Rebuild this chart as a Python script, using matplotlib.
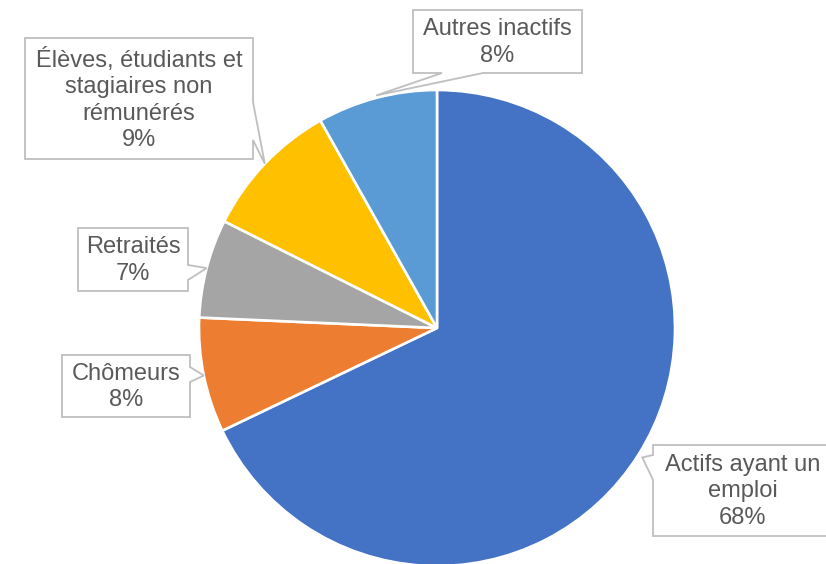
import matplotlib
matplotlib.use("Agg")
import matplotlib.pyplot as plt
from matplotlib.patches import Polygon
import numpy as np

plt.rcParams['font.family'] = ['Liberation Sans', 'DejaVu Sans']

# ---- data ----
categories = ["Actifs ayant un\nemploi", "Chômeurs", "Retraités",
              "Élèves, étudiants et\nstagiaires non\nrémunérés", "Autres inactifs"]
values = [67.9, 7.8, 6.7, 9.45, 8.15]
colors = ["#4472C4", "#ED7D31", "#A5A5A5", "#FFC000", "#5B9BD5"]

# ---- layout (pixels) ----
W, H = 826, 564
CX, CY, R = 437, 328, 238

def to_data(px, py):
    return ((px - CX) / R, (CY - py) / R)

# callout boxes: (x0, y0, x1, y1), side with pointer, pointer base interval
boxes = [
    ((653, 445, 832, 536), "left", (455, 480)),
    ((62, 355, 190, 417), "right", (367, 382)),
    ((78, 228, 188, 291), "right", (265, 280)),
    ((25, 38, 253, 159), "right", (102, 140)),
    ((413, 10, 582, 73), "bottom", (442, 483)),
]
tip_r = [1.02, 1.0, 1.0, 1.0, 1.01]

fig = plt.figure(figsize=(W / 100, H / 100), dpi=100)
ax = fig.add_axes([0, 0, 1, 1])

wedges, _ = ax.pie(values, colors=colors, startangle=90, counterclock=False,
                   radius=1, center=(0, 0),
                   wedgeprops=dict(edgecolor="white", linewidth=1.9))

ax.set_xlim(-CX / R, (W - CX) / R)
ax.set_ylim((CY - H) / R, CY / R)
ax.set_aspect('auto')
ax.axis('off')

total = sum(values)
for w, cat, v, (box, side, (a, b)), tr in zip(wedges, categories, values, boxes, tip_r):
    mid = np.deg2rad((w.theta1 + w.theta2) / 2)
    tip = (tr * np.cos(mid), tr * np.sin(mid))
    x0, y0, x1, y1 = box
    if side == "left":
        pts = [(x0, y0), (x1, y0), (x1, y1), (x0, y1), (x0, b)]
        pts = [to_data(*p) for p in pts] + [tip, to_data(x0, a)]
    elif side == "right":
        pts = [(x0, y0), (x1, y0), (x1, a)]
        pts = [to_data(*p) for p in pts] + [tip] + \
              [to_data(*p) for p in [(x1, b), (x1, y1), (x0, y1)]]
    else:  # bottom
        pts = [(x0, y0), (x1, y0), (x1, y1), (b, y1)]
        pts = [to_data(*p) for p in pts] + [tip] + \
              [to_data(*p) for p in [(a, y1), (x0, y1)]]
    ax.add_patch(Polygon(pts, closed=True, facecolor="white",
                         edgecolor="#BFBFBF", linewidth=1.3, zorder=5,
                         clip_on=False))
    pct = round(v / total * 100)
    tx, ty = to_data((x0 + x1) / 2, (y0 + y1) / 2 + 1)
    ax.text(tx, ty, f"{cat}\n{pct}%", ha="center", va="center",
            fontsize=17, color="#595959", linespacing=1.27, zorder=6)

fig.savefig("out.png", dpi=100)
